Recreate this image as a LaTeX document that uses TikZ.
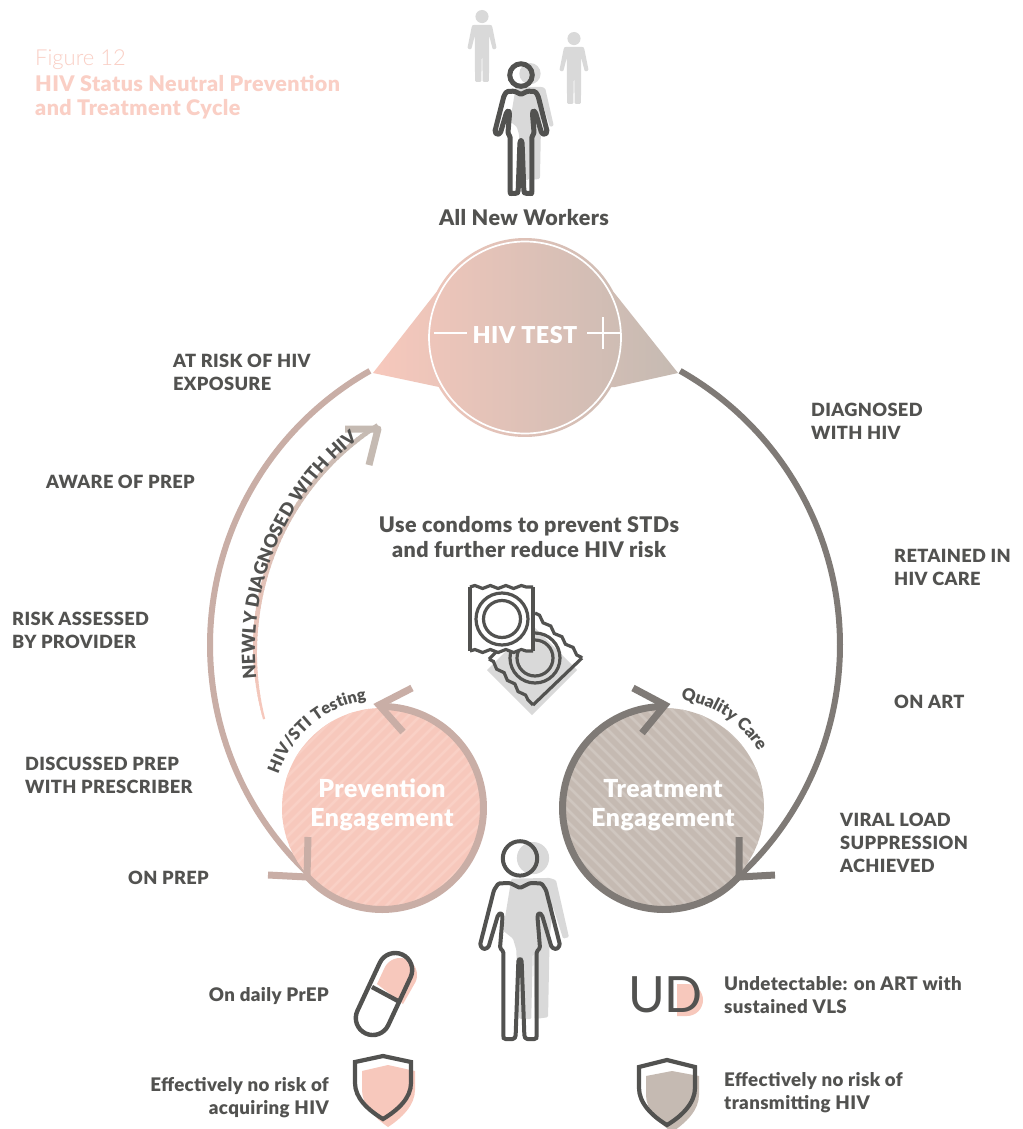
\documentclass[tikz,border=0pt]{standalone}
\usepackage{fontspec}
\setmainfont{Lato}[BoldFont={Lato Black},BoldFeatures={LetterSpace=2}]
\newfontfamily\lightf{Lato Light}
\usetikzlibrary{decorations.text,decorations.pathmorphing,calc}
\definecolor{ink}{HTML}{525250}
\definecolor{pk}{HTML}{F7C8BC}
\definecolor{pkl}{HTML}{F9D0C5}
\definecolor{ttl}{HTML}{FACFC5}
\definecolor{ros}{HTML}{C9AEA6}
\definecolor{grb}{HTML}{C5BAB2}
\definecolor{grl}{HTML}{CFC6BF}
\definecolor{drk}{HTML}{7F7A76}
\definecolor{shd}{HTML}{D9D9D9}
\newcommand\lab{\fontsize{18.2}{23}\selectfont\bfseries}
\newcommand\labm{\fontsize{18.7}{23}\selectfont\bfseries}
\newcommand\curvetext[7]{%
 \pgfmathsetmacro\kk{4/3*tan((#5-#4)/4)*#3}
 \path[postaction={decorate,decoration={text along path,text align=center,text color=ink,text={|\fontsize{#7}{#7}\selectfont\bfseries|#6}}}]
 ({#1+#3*cos(#4)},{#2+#3*sin(#4)}) .. controls ({#1+#3*cos(#4)-\kk*sin(#4)},{#2+#3*sin(#4)+\kk*cos(#4)}) and ({#1+#3*cos(#5)+\kk*sin(#5)},{#2+#3*sin(#5)-\kk*cos(#5)}) .. ({#1+#3*cos(#5)},{#2+#3*sin(#5)});}
\newcommand\solidpers[4]{\begin{scope}[shift={(#1,#2)},x=#3pt,y=-#3pt]
 \fill[#4] (0,9.1) circle[radius=9.1];
 \fill[#4,rounded corners=1.2pt] (-12,20.5)--(12,20.5)--(14,22)--(20.3,53.5)--(15,55)--(10,35.6)--(10,56)--(9.6,100)--(1,100)--(0.2,60)--(-0.2,60)--(-1,100)--(-9.6,100)--(-10,56)--(-10,35.6)--(-15,55)--(-20.3,53.5)--(-14,22)--cycle;
\end{scope}}
\newcommand\shadowpers[4]{\begin{scope}[shift={(#1,#2)},x=#3pt,y=-#3pt]
 \fill[#4] (0,9.1) circle[radius=9.1];
 \fill[#4,rounded corners=1.2pt] (-12.2,20.7)--(9.4,20.3)--(13,21.6)--(20.3,53.7)--(17,54.6)--(11.3,36.7)--(9.4,53.7)--(8.5,99)--(1,100)--(0,58)--(-1,100)--(-7.5,100)--(-8.5,98)--(-9.4,61)--(-11.3,54.6)--(-17,50)--cycle;
\end{scope}}
\newcommand\outlinepers[4]{\begin{scope}[shift={(#1,#2)},x=#3pt,y=-#3pt]
 \draw[ink,line width=#4pt] (0,9.2) circle[radius=8.6];
 \draw[ink,line width=#4pt,rounded corners=1.4pt,line join=round] (0,24)--(5,21.5)--(10.8,21.7)--(13,25)--(20,52.5)--(18.3,54.7)--(15.8,53.7)--(11,37.5)--(9.5,36.3)--(8.7,38)--(10,54)--(8.3,55.8)--(8.3,98.7)--(8,99.5)--(3,99.5)--(2.2,98.3)--(0.8,60)--(0,59.2)--(-0.8,60)--(-2.2,98.3)--(-3,99.5)--(-8,99.5)--(-8.3,98.7)--(-8.3,55.8)--(-10,54)--(-8.7,38)--(-9.5,36.3)--(-11,37.5)--(-15.8,53.7)--(-18.3,54.7)--(-20,52.5)--(-13,25)--(-10.8,21.7)--(-5,21.5)--cycle;
\end{scope}}
\tikzset{
 lbl/.style={text=ink,align=left,anchor=west,font=\lab,inner sep=0pt},
 lblm/.style={text=ink,align=left,anchor=west,font=\labm,inner sep=0pt},
 lblr/.style={text=ink,align=right,anchor=east,font=\labm,inner sep=0pt},
 chev/.style={line width=7pt,line join=miter,line cap=butt},
 wave/.style={decorate,decoration={snake,segment length=15.5pt,amplitude=1.5pt}},
 packline/.style={draw=ink,line width=3.2pt}
}
\begin{document}
\begin{tikzpicture}[x=1pt,y=-1pt]
\useasboundingbox (0,0) rectangle (1022,1129);
\fill[white] (0,0) rectangle (1022,1129);
% title
\node[anchor=west,inner sep=0pt,text=ttl,font=\lightf\fontsize{22}{22}\selectfont] (t1) at (35,60) {Figure 12};
\node[anchor=west,inner sep=0pt,text=ttl,font=\fontsize{21.5}{21.5}\selectfont\bfseries] (t2) at (35,84) {HIV Status Neutral Prevention};
\node[anchor=west,inner sep=0pt,text=ttl,font=\fontsize{21.5}{21.5}\selectfont\bfseries] (t3) at (35,109) {and Treatment Cycle};
% people top
\solidpers{482}{10}{0.72}{shd}
\solidpers{574}{32}{0.72}{shd}
\shadowpers{530}{63}{1.17}{shd}
\outlinepers{521}{63}{1.31}{5}
\node[text=ink,font=\fontsize{21.5}{21.5}\selectfont\bfseries,inner sep=0pt] (newworkers) at (524,218) {All New Workers};
% big arcs
\draw[ros,line width=6pt] plot[domain=240.5:134,samples=90] ({525+315*cos(\x)},{645+315*sin(\x)});
\draw[drk,line width=6pt] plot[domain=-60.5:47,samples=90] ({525+315*cos(\x)},{645+315*sin(\x)});
% HIV test
\shade[left color=pk,right color=grb] (373,373)--(438,290)-- plot[domain=208:332,samples=60] ({525+99.5*cos(\x)},{337.5+99.5*sin(\x)}) --(612,290)--(678,373)--(615,387)-- plot[domain=30:150,samples=60] ({525+99.5*cos(\x)},{337.5+99.5*sin(\x)}) --(439,387)--cycle;
\draw[white,line width=1.7pt] (525,337.5) circle[radius=96];
\node[text=white,font=\fontsize{23.3}{23.3}\selectfont\bfseries,inner sep=0pt] (hivtest) at (525,335) {HIV TEST};
\draw[white,line width=1.5pt] (434,333)--(467,333) (587,333)--(620,333) (603,317)--(603,349);
% prevention
\begin{scope}
\clip (382,808) circle[radius=100];
\fill[pk] (270,700) rectangle (490,915);
\foreach \k in {0,...,40} \draw[pkl,line width=2.6pt] ({280+\k*12},700)--({280+\k*12-215},915);
\end{scope}
\draw[ros,line width=7pt] plot[domain=-91:139,samples=90] ({382+101.5*cos(\x)},{808+101.5*sin(\x)});
\coordinate (pa) at (412,688); \coordinate (pt) at (379,705); \coordinate (pb) at (403,732);
\draw[ros,chev] (pa)--(pt)--(pb);
\coordinate (la) at (308,837); \coordinate (lt) at (307,877); \coordinate (lb) at (268,875);
\draw[ros,chev] (la)--(lt)--(lb);
\node[text=white,font=\fontsize{24.8}{29}\selectfont\bfseries,align=center,inner sep=0pt] (prev) at (382,805) {Prevention\\Engagement};
% treatment
\begin{scope}
\clip (664,808) circle[radius=100];
\fill[grb] (555,700) rectangle (775,915);
\foreach \k in {0,...,40} \draw[grl,line width=2.6pt] ({770-\k*12},700)--({770-\k*12+215},915);
\end{scope}
\draw[drk,line width=7pt] plot[domain=-90:-318,samples=90] ({664+101.5*cos(\x)},{808+101.5*sin(\x)});
\coordinate (qa) at (633,688); \coordinate (qt) at (665,705); \coordinate (qb) at (642,733);
\draw[drk,chev] (qa)--(qt)--(qb);
\coordinate (ra) at (739,837); \coordinate (rt) at (739,877); \coordinate (rb) at (775,875);
\draw[drk,chev] (ra)--(rt)--(rb);
\node[text=white,font=\fontsize{24.8}{29}\selectfont\bfseries,align=center,inner sep=0pt] (treat) at (663,805) {Treatment\\Engagement};
% curved labels
\curvetext{382}{808}{109}{197}{263}{HIV/STI Testing}{16.5}
\curvetext{664}{808}{110}{-84}{-28}{Quality Care}{17}
% newly diagnosed arrow
\foreach \k in {0,...,71} {
 \pgfmathsetmacro\aa{165+\k}
 \pgfmathsetmacro\bb{166.3+\k}
 \pgfmathsetmacro\mx{\k/71*100}
 \pgfmathsetmacro\wd{min(2.2+\k*0.12,4.6)}
 \draw[line width=\wd pt,color=grb!\mx!pk] ({522+267*cos(\aa)},{650+267*sin(\aa)})--({522+267*cos(\bb)},{650+267*sin(\bb)});
}
\coordinate (na) at (345,429); \coordinate (nt) at (378,429); \coordinate (nb) at (369,465);
\draw[grb,line width=7pt,line join=round] (na)--(nt)--(nb);
\curvetext{522}{650}{267}{168}{238}{NEWLY DIAGNOSED WITH HIV}{18.2}
% left labels
\node[lbl] (l1) at (173,372.5) {AT RISK OF HIV\\EXPOSURE};
\node[lbl] (l2) at (46,481.5) {AWARE OF PREP};
\node[lbl] (l3) at (12,630.5) {RISK ASSESSED\\BY PROVIDER};
\node[lbl] (l4) at (25,775.5) {DISCUSSED PREP\\WITH PRESCRIBER};
\node[lbl] (l5) at (128,878) {ON PREP};
% right labels
\node[lbl] (r1) at (811,421.5) {DIAGNOSED\\WITH HIV};
\node[lbl] (r2) at (894,567.5) {RETAINED IN\\HIV CARE};
\node[lbl] (r3) at (894,702) {ON ART};
\node[lbl] (r4) at (840,842.5) {VIRAL LOAD\\SUPPRESSION\\ACHIEVED};
% centre
\node[text=ink,align=center,font=\fontsize{21.5}{25.5}\selectfont\bfseries,inner sep=0pt] (cond) at (529,537) {Use condoms to prevent STDs\\and further reduce HIV risk};
% condom packs
\fill[shd] (532,625)--(577,670)--(532,715)--(487,670)--cycle;
\draw[packline,wave] (535,613)--(582,658);
\draw[packline,wave] (489,659)--(533,705);
\draw[packline] (582,658)--(533,705) (535,613)--(489,659);
\draw[ink,line width=3.2pt] (535,658) circle[radius=25] (535,658) circle[radius=18];
\fill[white] (470,588) rectangle (533,652);
\draw[packline,wave] (470,587)--(533,587);
\draw[packline,wave] (470,651)--(533,651);
\draw[packline] (470,587)--(470,651) (533,587)--(533,651);
\draw[ink,line width=3.2pt] (502,619) circle[radius=26] (502,619) circle[radius=18.5];
% bottom person
\shadowpers{533}{842}{1.77}{shd}
\outlinepers{520}{840}{2}{4}
% pill
\fill[pk] (377,984)--(403,1004)--(415.5,982)-- plot[domain=24.6:-155.4,samples=40] ({400+17*cos(\x)},{975+17*sin(\x)}) --cycle;
\node[draw=ink,line width=4.4pt,rectangle,rounded corners=17pt,minimum width=87pt,minimum height=34pt,rotate=65,inner sep=0pt] (pill) at (384,994) {};
\coordinate (pl1) at (372,987); \coordinate (pl2) at (398,1001);
\draw[ink,line width=4.4pt] (pl1)--(pl2);
\node[lblr] (onprep) at (329,996) {On daily PrEP};
% shields
\fill[pk] (388,1065)--(415,1071)--(415,1090) .. controls (415,1105) and (402,1118) .. (388,1127) .. controls (375,1118) and (362,1105) .. (362,1090)--(362,1071)--cycle;
\draw[ink,line width=4.2pt,line join=miter] (383,1056)--(411,1062)--(411,1083) .. controls (411,1098) and (398,1110) .. (383,1119) .. controls (368,1110) and (355,1098) .. (355,1083)--(355,1062)--cycle;
\node[lblr] (nor) at (329,1098) {Effectively no risk of\\acquiring HIV};
\fill[grb] (672,1071)--(699,1076)--(699,1095) .. controls (699,1110) and (686,1123) .. (672,1132) .. controls (659,1123) and (646,1110) .. (646,1095)--(646,1076)--cycle;
\draw[ink,line width=4.2pt,line join=miter] (667,1060)--(695,1067)--(695,1088) .. controls (695,1103) and (682,1116) .. (667,1125) .. controls (652,1116) and (639,1103) .. (639,1088)--(639,1067)--cycle;
\node[lblm] (nol) at (724,1092.5) {Effectively no risk of\\transmitting HIV};
% UD
\fill[pk] (677,984) -- (687,984) arc[start angle=90,end angle=-90,radius=16pt] -- (677,1016)--cycle;
\node[text=ink,anchor=west,inner sep=0pt,font=\fontsize{50}{50}\selectfont\addfontfeature{LetterSpace=-2}] (ud) at (628,995) {UD};
\node[lblm] (udt) at (724,995.5) {Undetectable: on ART with\\sustained VLS};
\end{tikzpicture}
\end{document}
